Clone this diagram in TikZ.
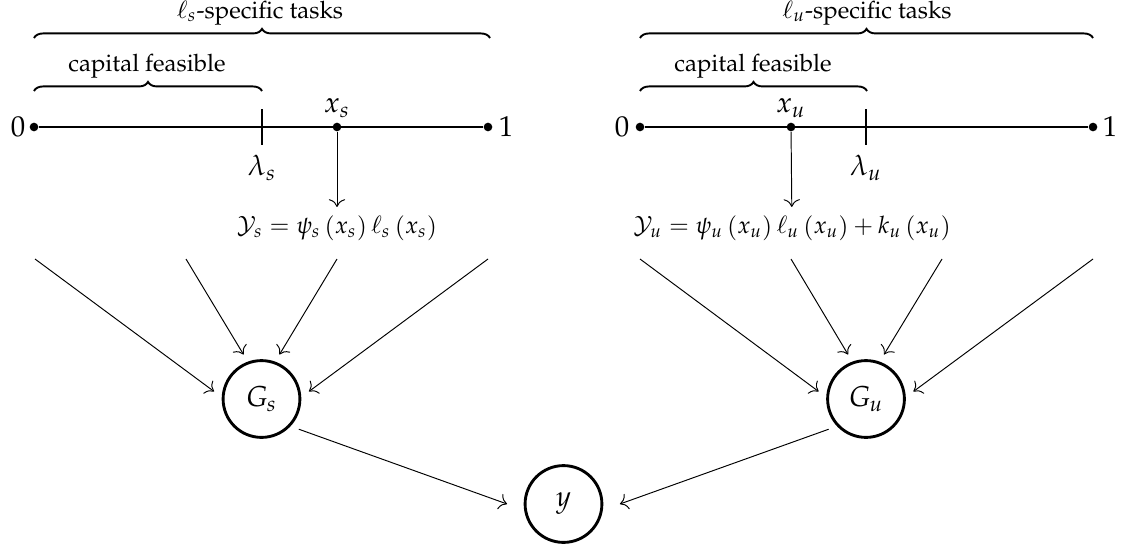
\documentclass[tikz,border=0pt]{standalone}
\usepackage[T1]{fontenc}
\usepackage{mathpazo}
\usetikzlibrary{decorations.pathreplacing,calc,arrows.meta}
\begin{document}
\begin{tikzpicture}[x=0.4167pt,y=-0.4167pt,
  dot/.style={circle,fill,inner sep=0pt,minimum size=3.6pt},
  lbl/.style={inner sep=0pt},
  biglbl/.style={inner sep=0pt,font=\large},
  gnode/.style={circle,draw,very thick,minimum size=32pt,inner sep=0pt,outer sep=4pt,font=\large},
  ynode/.style={circle,draw,very thick,minimum size=32pt,inner sep=0pt,outer sep=7.5pt,font=\large},
  axisline/.style={thick},
  tickline/.style={line width=0.45pt},
  bracestyle/.style={thick,decorate,decoration={brace,amplitude=3.8pt}},
  arr/.style={-{To[scale=1.3]}}]
\useasboundingbox (0,0) rectangle (1122,550);
% ---------- left number line ----------
\node[dot] (s0) at (34,127) {};
\node[dot] (s1) at (488,127) {};
\node[dot] (xs) at (337,127) {};
\coordinate (ls) at (262,127);
\draw[axisline] (s0) -- (s1);
\draw[tickline] ($(ls)+(0,-18)$) -- ($(ls)+(0,18)$);
\node[biglbl] (s0l) at (18,127) {$0$};
\node[biglbl] (s1l) at (506,127) {$1$};
\node[biglbl] (lsl) at (262,168) {$\lambda_s$};
\node[biglbl] (xsl) at (337,108) {$x_s$};
\node (Ys) at (337,228) {$\mathcal{Y}_s = \psi_s\left(x_s\right)\ell_s\left(x_s\right)$};
\draw[arr] (xs) -- (Ys);
\coordinate (bs0) at (34,38);
\coordinate (bs1) at (490,38);
\coordinate (bs2) at (262,91);
\draw[bracestyle] (bs0) -- (bs1);
\draw[bracestyle] ($(bs0)+(0,53)$) -- (bs2);
\node[lbl] (tsl) at (260,13) {$\ell_s$-specific tasks};
\node[lbl] (csl) at (147,66) {capital feasible};
% ---------- right number line ----------
\node[dot] (u0) at (640,127) {};
\node[dot] (u1) at (1093,127) {};
\node[dot] (xu) at (791,127) {};
\coordinate (lu) at (866,127);
\draw[axisline] (u0) -- (u1);
\draw[tickline] ($(lu)+(0,-18)$) -- ($(lu)+(0,18)$);
\node[biglbl] (u0l) at (622,127) {$0$};
\node[biglbl] (u1l) at (1110,127) {$1$};
\node[biglbl] (lul) at (866,168) {$\lambda_u$};
\node[biglbl] (xul) at (791,108) {$x_u$};
\node (Yu) at (792,228) {$\mathcal{Y}_u = \psi_u\left(x_u\right)\ell_u\left(x_u\right)+k_u\left(x_u\right)$};
\draw[arr] (xu) -- (Yu);
\coordinate (bu0) at (640,38);
\coordinate (bu1) at (1093,38);
\coordinate (bu2) at (867,91);
\draw[bracestyle] (bu0) -- (bu1);
\draw[bracestyle] ($(bu0)+(0,53)$) -- (bu2);
\node[lbl] (tul) at (867,13) {$\ell_u$-specific tasks};
\node[lbl] (cul) at (753,66) {capital feasible};
% ---------- aggregation ----------
\node[gnode] (Gs) at (261.5,399) {$G_s$};
\node[gnode] (Gu) at (866,399) {$G_u$};
\node[ynode] (Y) at (563.5,504) {$y$};
\coordinate (a1) at (35,259);
\coordinate (a2) at (186,259);
\coordinate (a3) at (337,259);
\coordinate (a4) at (488,259);
\coordinate (c1) at (640,259);
\coordinate (c2) at (791,259);
\coordinate (c3) at (942,259);
\coordinate (c4) at (1093,259);
\draw[arr] (a1) -- (Gs.171);
\draw[arr] (a2) -- (Gs.112);
\draw[arr] (a3) -- (Gs.68);
\draw[arr] (a4) -- (Gs.9);
\draw[arr] (c1) -- (Gu.171);
\draw[arr] (c2) -- (Gu.112);
\draw[arr] (c3) -- (Gu.68);
\draw[arr] (c4) -- (Gu.9);
\draw[arr] (Gs.-39) -- (Y.180);
\draw[arr] (Gu.219) -- (Y.0);
\end{tikzpicture}
\end{document}
